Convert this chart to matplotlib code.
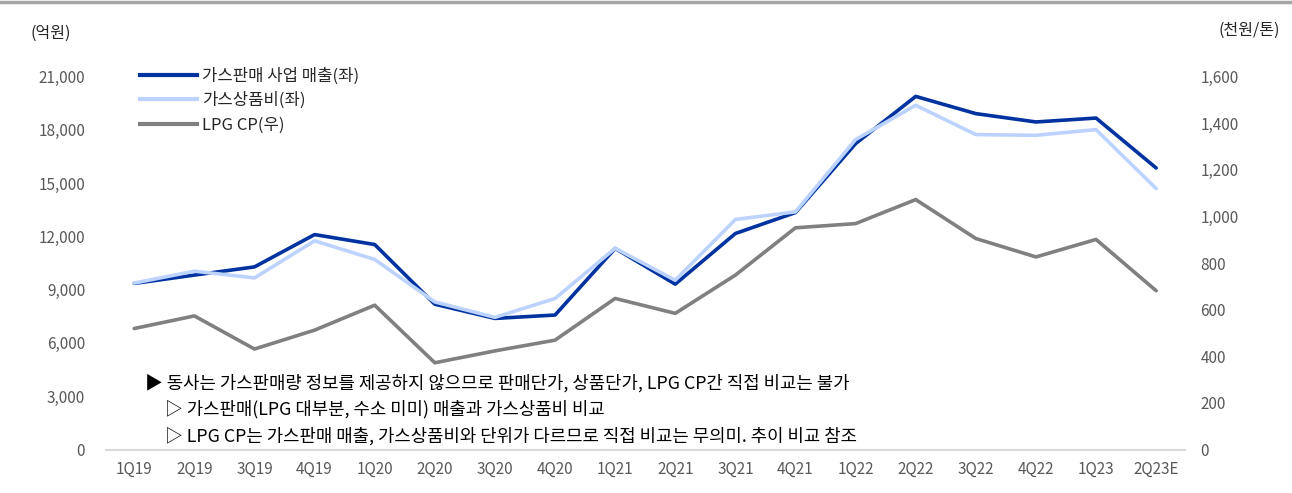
import matplotlib
matplotlib.use("Agg")
import matplotlib.pyplot as plt
from matplotlib.lines import Line2D
from matplotlib.ticker import FuncFormatter

plt.rcParams["font.family"] = ["Noto Sans CJK KR", "DejaVu Sans"]

# data
quarters = ["1Q19", "2Q19", "3Q19", "4Q19", "1Q20", "2Q20", "3Q20", "4Q20",
            "1Q21", "2Q21", "3Q21", "4Q21", "1Q22", "2Q22", "3Q22", "4Q22",
            "1Q23", "2Q23E"]
gas_sales = [9350, 9820, 10280, 12100, 11540, 8180, 7380, 7570,
             11320, 9310, 12160, 13340, 17220, 19880, 18910, 18440,
             18660, 15850]
gas_cost = [9370, 10040, 9660, 11750, 10700, 8310, 7440, 8500,
            11330, 9530, 12950, 13380, 17450, 19380, 17730, 17690,
            18010, 14690]
lpg_cp = [519, 573, 431, 512, 619, 372, 423, 469,
          648, 584, 748, 951, 969, 1072, 905, 826,
          901, 681]

c_dark = "#0033A0"
c_light = "#BDD3FF"
c_gray = "#808080"
c_tick = "#595959"

fig = plt.figure(figsize=(12.92, 4.93), dpi=100)
ax = fig.add_axes([106 / 1292, 1 - 449.5 / 493, (1185 - 106) / 1292, (449.5 - 76.5) / 493])
ax2 = ax.twinx()

x = list(range(len(quarters)))
ax.plot(x, gas_sales, color=c_dark, lw=2.6, solid_capstyle="round", zorder=3)
ax.plot(x, gas_cost, color=c_light, lw=2.6, solid_capstyle="round", zorder=4)
ax2.plot(x, lpg_cp, color=c_gray, lw=2.6, solid_capstyle="round")

ax.set_xlim(-0.47, 17.48)
ax.set_ylim(0, 21000)
ax2.set_ylim(0, 1600)
ax.set_yticks(range(0, 21001, 3000))
ax2.set_yticks(range(0, 1601, 200))
ax.set_xticks(x)
ax.set_xticklabels(quarters)
ax.yaxis.set_major_formatter(FuncFormatter(lambda v, p: f"{int(v):,}"))
ax2.yaxis.set_major_formatter(FuncFormatter(lambda v, p: f"{int(v):,}"))

for a in (ax, ax2):
    for s in a.spines.values():
        s.set_visible(False)
    a.tick_params(length=0, colors=c_tick, labelsize=11)
ax.spines["bottom"].set_visible(True)
ax.spines["bottom"].set_color("#D9D9D9")
ax.spines["bottom"].set_linewidth(1.5)
ax.tick_params(axis="y", pad=15)
ax.tick_params(axis="x", pad=8)
ax2.tick_params(axis="y", pad=11)

fig.text(30 / 1292, 1 - 33 / 493, "(억원)", fontsize=11.5, color="#262626", va="center", ha="left")
fig.text(1280 / 1292, 1 - 30 / 493, "(천원/톤)", fontsize=11.5, color="#262626", va="center", ha="right")

handles = [Line2D([], [], color=c_dark, lw=3),
           Line2D([], [], color=c_light, lw=3),
           Line2D([], [], color=c_gray, lw=3)]
labels = ["가스판매 사업 매출(좌)", "가스상품비(좌)", "LPG CP(우)"]
leg = ax2.legend(handles, labels, loc="upper left", bbox_to_anchor=(0.018, 1.065),
                 frameon=False, fontsize=12, handlelength=3.4, handletextpad=0.3,
                 labelspacing=0.45, labelcolor="#262626")

notes = ["▶ 동사는 가스판매량 정보를 제공하지 않으므로 판매단가, 상품단가, LPG CP간 직접 비교는 불가",
         "▷ 가스판매(LPG 대부분, 수소 미미) 매출과 가스상품비 비교",
         "▷ LPG CP는 가스판매 매출, 가스상품비와 단위가 다르므로 직접 비교는 무의미. 추이 비교 참조"]
note_x = [145, 165, 165]
for i, t in enumerate(notes):
    fig.text(note_x[i] / 1292, 1 - (383 + 26.5 * i) / 493, t, fontsize=12.8,
             color="black", va="center", ha="left")

# gray rule along the top edge
fig.add_artist(Line2D([0, 1], [1 - 2 / 493, 1 - 2 / 493], color="#A6A6A6", lw=2.5,
                      transform=fig.transFigure))

fig.savefig("out.png", dpi=100)
